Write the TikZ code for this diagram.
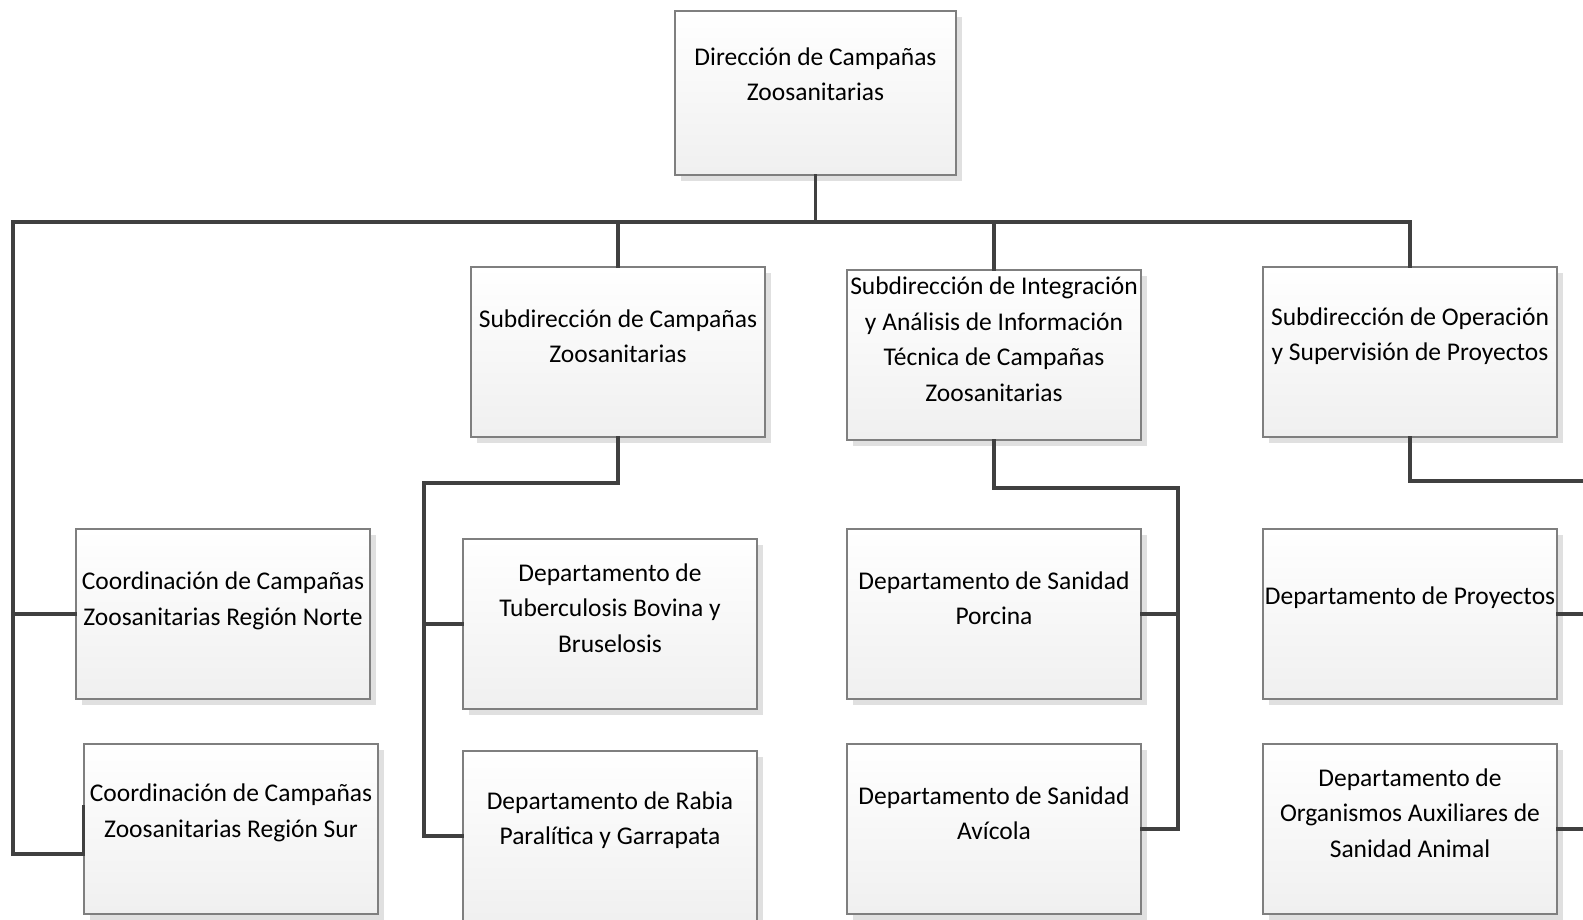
\documentclass[tikz,border=0pt]{standalone}
\usepackage{fontspec}
\setmainfont{Carlito}
\usepackage{tikz}
\usetikzlibrary{shadows,positioning}
\definecolor{linegray}{HTML}{404040}
\definecolor{boxgray}{HTML}{7F7F7F}
\tikzset{orgbox/.style={draw=boxgray,line width=1.2pt,top color=white,bottom color=black!6,
        minimum width=294pt,minimum height=170pt,inner sep=0pt,
        drop shadow={shadow xshift=6pt,shadow yshift=-6pt,fill=black!12,opacity=1}}}
\tikzset{conn/.style={draw=linegray,line width=3.5pt,line cap=rect}}
\tikzset{btextat/.style 2 args={label={[yshift=#1,align=center,font=\fontsize{25.5}{35.5}\selectfont]center:{#2}}},
         btext/.style={btextat={16pt}{#1}}}

\begin{document}
\begin{tikzpicture}[x=1pt,y=-1pt]
                    \useasboundingbox (0,0) rectangle (1583,919);

                    \node[orgbox,minimum width=281pt,minimum height=164pt,btextat={19pt}{Dirección de Campañas\\Zoosanitarias}] (dir) at (815.5,93) {};

                    \node[orgbox,btextat={13pt}{Coordinación de Campañas\\Zoosanitarias Región Norte}] (norte) at (223,614) {};
                    \node[orgbox,btext={Coordinación de Campañas\\Zoosanitarias Región Sur}] (sur) at (231,829) {};

                    \node[orgbox,btext={Subdirección de Campañas\\Zoosanitarias}] (subcamp) at (618,352) {};
                    \node[orgbox,btext={Departamento de\\Tuberculosis Bovina y\\Bruselosis}] (tuberc) at (610,624) {};
                    \node[orgbox,btext={Departamento de Rabia\\Paralítica y Garrapata}] (rabia) at (610,836) {};

                    \node[orgbox,btext={Subdirección de Integración\\y Análisis de Información\\Técnica de Campañas\\Zoosanitarias}] (subint) at (994,355) {};
                    \node[orgbox,btext={Departamento de Sanidad\\Porcina}] (porcina) at (994,614) {};
                    \node[orgbox,btext={Departamento de Sanidad\\Avícola}] (avicola) at (994,829) {};

                    \node[orgbox,btext={Subdirección de Operación\\y Supervisión de Proyectos}] (subop) at (1410,352) {};
                    \node[orgbox,btext={Departamento de Proyectos}] (proyectos) at (1410,614) {};
                    \node[orgbox,btext={Departamento de\\Organismos Auxiliares de\\Sanidad Animal}] (organismos) at (1410,829) {};

                    \coordinate (busL) at (13,222);
                    \coordinate (campL) at (424,483);
                    \coordinate (intR) at (1178,488);
                    \coordinate (opR) at (1600,481);

                    \path[conn]
                            (dir.south) -- (dir.south |- busL)
                            (busL) -| (subop.north)
                            (subcamp.north |- busL) -- (subcamp.north)
                            (subint.north |- busL) -- (subint.north)
                            (busL) |- ([yshift=-25pt]sur.west) -- ([yshift=22pt]sur.west)
                            (busL |- norte.west) -- (norte.west)
                            (subcamp.south) |- (campL) |- (rabia.west)
                            (campL |- tuberc.west) -- (tuberc.west)
                            (subint.south) |- (intR) |- (avicola.east)
                            (intR |- porcina.east) -- (porcina.east)
                            (subop.south) |- (opR)
                            (proyectos.east) -- (proyectos.east -| opR)
                            (organismos.east) -- (organismos.east -| opR)
                            ;
            \end{tikzpicture}
\end{document}
